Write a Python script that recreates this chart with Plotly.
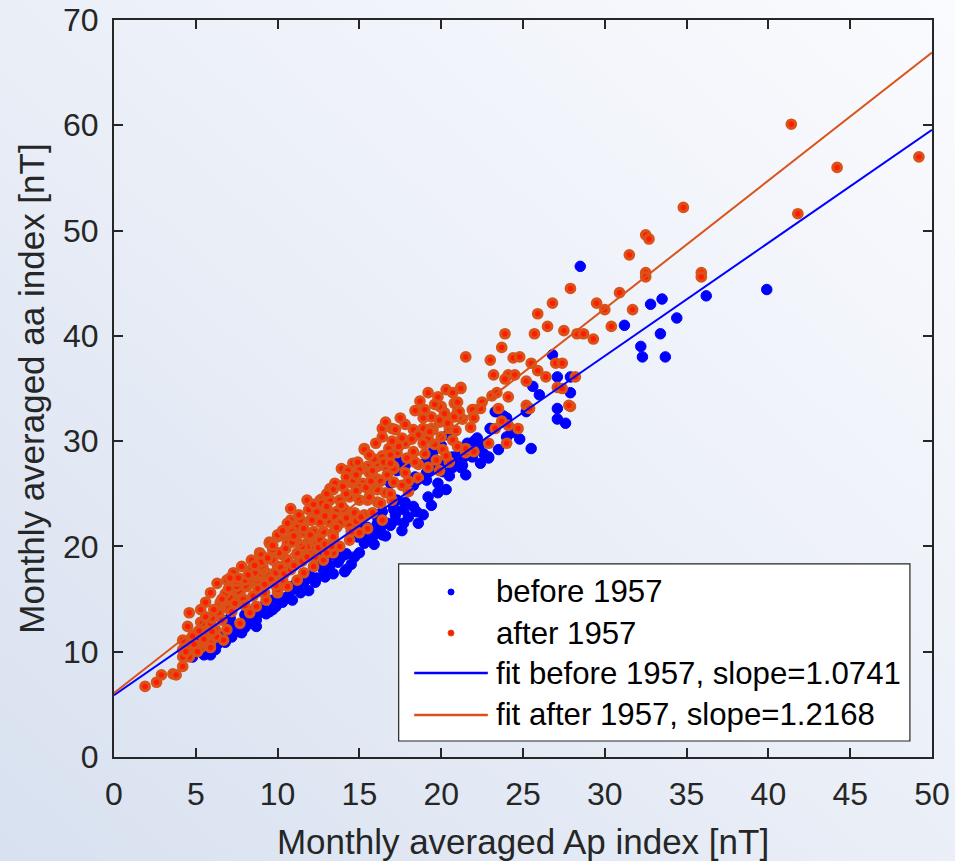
import base64
import plotly.graph_objects as go

# Monthly averaged Ap (x) and aa (y) indices, months before 1957
before_ap = [39.9, 36.2, 33.5, 32.8, 34.4, 31.2, 33.4, 32.2, 32.3, 33.7, 28.5,
             26.8, 27.1, 27.9, 25.6, 26.0, 27.9, 27.1, 27.1, 27.6, 24.8, 25.5, 24.0, 23.3, 25.2, 24.0,
             23.0, 22.2, 22.9, 21.7, 21.9, 21.4, 22.3, 21.0, 19.6, 20.0, 20.7, 21.2, 19.4,
             23.8, 21.6, 21.1, 22.3, 21.1, 19.9, 19.5, 19.4, 20.0, 20.1, 18.3, 19.1, 18.4, 17.4, 16.9,
             20.3, 19.8, 19.2, 17.8, 18.3, 17.7, 18.9, 18.6, 17.7, 17.2, 16.1, 16.1, 15.5, 16.4, 15.0,
             14.7, 17.3, 19.1, 23.0, 23.4, 22.9, 21.3, 20.4, 20.7, 19.1, 17.3, 17.8,
             17.2, 17.3, 17.1, 16.3, 16.7, 15.8, 14.9, 15.0, 15.5, 13.8, 14.2, 13.0, 12.6, 12.2,
             5.9, 5.3, 6.7, 6.4, 7.4, 7.7, 8.4, 9.1, 9.7, 10.3, 11.4, 11.7, 12.2, 12.8, 13.5, 14.1,
             14.2, 14.1, 11.6, 12.6, 14.9, 15.5, 16.1, 16.4, 17.1, 17.2, 16.3, 15.5, 14.7, 13.2,
             11.4, 10.6, 9.7, 8.9, 8.0, 7.8, 5.7, 5.0, 5.1,
             9.1, 8.5, 8.0, 7.5, 7.1, 6.6, 6.3, 5.5, 4.8, 5.3, 7.1, 8.1,
             10.8, 11.0, 12.0, 12.4, 13.0, 13.7, 9.3, 8.7, 6.9, 6.0, 22.0,
             6.2, 6.8, 7.2, 7.9, 8.3, 8.7, 9.5, 9.9, 10.1, 10.9, 11.2, 11.9, 12.3, 12.9, 13.4, 13.8,
             14.5, 15.0, 15.3, 15.9, 16.6, 16.9, 17.6, 18.0, 18.5, 19.4, 19.8, 20.5, 21.5, 22.4, 22.6,
             23.5, 24.3]
before_aa = [44.4, 43.8, 43.5, 43.0, 41.7, 41.0, 40.2, 39.0, 38.0, 38.0, 46.6,
             38.2, 36.1, 36.1, 35.2, 34.4, 34.6, 33.1, 32.1, 31.7, 30.2, 29.3, 32.2, 32.8, 32.8, 30.4,
             31.2, 30.3, 28.4, 29.6, 28.5, 28.5, 29.8, 28.0, 28.0, 29.6, 27.5, 27.5, 27.4,
             32.4, 29.8, 29.3, 29.4, 28.6, 29.7, 29.0, 28.5, 27.9, 27.1, 25.8, 26.3, 26.6, 27.6, 26.0,
             25.4, 25.1, 24.7, 24.2, 23.8, 23.5, 23.0, 22.2, 22.2, 23.0, 22.2, 21.5, 20.9, 21.1, 22.2,
             21.6, 27.2, 28.1, 31.2, 32.8, 28.5, 27.7, 30.6, 28.5, 27.0, 28.2, 27.7,
             28.0, 24.4, 23.5, 23.0, 22.2, 20.9, 22.7, 21.8, 21.8, 19.2, 19.3, 20.0, 19.4, 19.5,
             9.7, 10.0, 11.1, 10.8, 12.3, 11.9, 13.8, 14.0, 14.9, 14.7, 16.8, 16.8, 18.1, 17.8, 19.2, 19.2,
             17.8, 17.6, 16.6, 18.5, 20.9, 21.6, 22.8, 23.3, 23.7, 22.5, 21.8, 20.8, 19.0, 18.2,
             15.6, 15.2, 14.0, 13.7, 12.3, 11.8, 9.9, 10.2, 11.4,
             14.3, 13.5, 13.5, 12.1, 12.4, 11.4, 10.8, 9.7, 9.5, 11.9, 13.2, 13.7,
             15.8, 16.3, 17.2, 17.0, 18.9, 18.5, 13.6, 13.0, 11.6, 10.5, 30.0,
             10.2, 10.9, 11.4, 12.8, 12.7, 12.4, 13.8, 14.3, 15.3, 14.9, 16.0, 15.8, 16.6, 17.1, 17.4, 18.8,
             18.3, 19.4, 20.3, 20.2, 21.0, 22.0, 21.5, 22.8, 23.3, 23.9, 26.0, 26.7, 26.8, 27.9, 28.8,
             29.2, 30.8]

# Monthly averaged Ap (x) and aa (y) indices, months after 1957
after_ap = [49.2, 41.4, 44.2, 41.8, 34.8, 32.5, 32.7, 31.5, 32.5, 32.5, 35.9, 35.9, 30.9, 30.0, 31.7, 30.4, 29.3,
            27.9, 26.8, 29.5, 25.9, 26.5, 27.5, 28.3, 28.7, 23.9, 25.7, 23.7, 21.5, 23.0, 24.4, 24.8, 25.5,
            27.0, 27.4, 23.2, 24.1, 24.5, 25.9, 26.4, 23.9, 25.2, 28.2, 27.1, 27.9, 25.2, 25.4, 24.7, 24.0,
            24.1, 23.7, 23.3, 24.1, 23.5, 23.1, 23.4, 22.5, 22.0, 22.4, 22.9, 21.8, 21.3, 21.0, 21.2, 20.3,
            20.7, 20.8, 20.0, 20.2, 19.9, 20.5, 21.1, 19.5, 20.0, 20.7, 21.0, 21.5, 20.1, 19.7, 27.4, 27.8,
            19.2, 18.7, 21.2, 21.0, 19.9, 20.2, 21.1, 19.4, 19.9, 17.8, 16.4, 17.0, 16.4, 17.2, 18.3, 18.9,
            19.4, 18.6, 19.2, 15.3, 16.8, 17.8, 18.9, 16.4, 17.3, 18.3, 14.6, 13.9, 15.5, 16.1, 17.1, 18.6,
            21.9, 22.0, 20.8,
            16.1, 16.4, 16.9, 17.1, 16.6, 14.3, 15.2, 15.6, 16.1, 16.7, 17.1, 13.5, 14.0, 13.2, 14.6, 15.2,
            15.6, 16.1, 16.6, 17.0, 12.6, 13.2, 13.8, 14.4, 15.0, 15.5, 16.1, 11.9, 12.5, 13.0, 13.6, 14.1,
            14.7, 15.3, 10.8, 11.4, 12.0, 12.6, 13.2, 13.8, 14.4, 11.2, 11.6, 12.2, 12.8, 13.4, 10.0, 10.6,
            11.2, 11.8, 12.4, 9.5, 8.9, 9.7, 10.3, 11.2, 11.9, 10.8, 11.8,
            15.3, 12.7, 5.3, 5.9, 6.4, 6.5, 7.0, 7.5, 7.1, 7.7, 8.3, 8.9, 8.4, 9.1, 9.7, 10.1, 9.7, 10.6,
            11.1, 10.9, 11.6, 12.1, 12.4, 12.7, 13.4, 14.0, 14.6, 15.0, 9.5, 8.4, 7.8, 7.3, 6.9, 6.3, 5.9,
            5.6, 5.3, 4.6, 4.5, 4.2, 4.2, 4.6, 5.3, 5.9, 6.3, 6.9, 7.7, 8.3, 8.7, 9.3, 10.0, 10.6, 11.2,
            11.6, 12.2, 12.8, 13.4, 13.8, 14.4, 15.0, 13.4, 12.6, 11.8, 11.2, 10.6, 10.0, 9.3, 8.7, 8.1,
            7.5, 6.9, 6.3, 5.9, 5.7, 5.1, 4.8, 15.8, 16.3, 15.6, 16.9, 16.4,
            1.9, 2.6, 2.9, 3.6, 3.8, 4.2, 4.2, 4.5, 4.9, 5.1, 5.5, 5.9, 5.4, 6.0, 6.4, 6.5, 7.0, 7.1, 7.7,
            8.1, 7.5, 8.0, 8.7, 8.9, 8.6, 9.4, 10.0, 10.3, 9.0, 9.7, 10.0, 10.6, 10.9, 10.9, 7.5, 7.1, 7.7,
            6.7, 5.7, 6.2,
            15.5, 21.5, 19.9, 18.0, 20.5, 22.0, 17.8, 18.4, 19.0, 19.6, 18.0, 19.2, 20.3, 17.6, 18.6,
            14.8, 15.8, 16.5, 14.2, 15.0, 13.0,
            4.4, 4.8, 5.2, 5.6, 6.1, 6.0, 5.5, 6.6, 6.8, 7.2, 7.4, 7.9, 7.6, 8.2, 6.6, 7.0, 8.0,
            8.5, 8.8, 9.2, 9.6, 9.0, 9.4, 8.6, 9.9, 10.2, 9.2, 9.9,
            10.4, 10.8, 11.0, 11.5, 11.8, 10.5, 11.0, 11.5, 12.0, 12.3, 10.3, 11.3,
            12.5, 12.9, 13.0, 13.3, 12.9, 13.5, 13.9, 14.2, 13.6, 12.2, 13.0,
            14.5, 14.8, 15.1, 15.4, 14.8, 15.7, 14.2, 15.9, 15.6, 14.9,
            16.3, 16.9, 17.4, 17.6, 17.9, 17.0, 16.0, 16.6, 17.5,
            18.2, 18.9, 19.6, 19.3, 20.4, 20.9, 19.8, 19.0, 18.4]
after_aa = [57.0, 60.1, 56.0, 51.6, 52.2, 49.6, 49.2, 47.7, 46.0, 45.6, 46.0, 45.6, 44.1, 42.5, 42.5, 40.9, 39.7,
            44.5, 43.1, 43.1, 42.1, 40.9, 40.5, 40.2, 40.2, 40.2, 40.2, 38.9, 38.0, 37.7, 37.9, 38.0, 37.4,
            37.4, 37.4, 36.3, 36.3, 36.3, 36.7, 36.1, 35.9, 35.7, 36.1, 35.1, 33.3, 33.4, 33.1, 31.2, 29.8,
            31.5, 31.9, 31.2, 34.2, 33.1, 34.3, 34.6, 33.7, 33.0, 33.1, 29.8, 31.3, 32.1, 32.8, 35.1, 34.9,
            34.6, 33.6, 33.3, 32.7, 31.8, 31.2, 32.3, 31.1, 30.4, 30.1, 29.5, 28.9, 29.2, 28.2, 35.0, 33.4,
            34.6, 33.8, 35.0, 33.7, 33.3, 32.6, 32.8, 32.3, 32.0, 31.6, 31.2, 31.2, 30.4, 31.1, 31.1, 31.2,
            31.2, 30.6, 30.3, 29.3, 29.3, 29.8, 29.8, 28.6, 28.9, 29.0, 27.9, 27.4, 27.6, 27.6, 27.6, 27.8,
            33.0, 32.2, 32.3,
            27.9, 28.5, 28.7, 27.4, 27.6, 27.2, 27.4, 27.0, 26.4, 26.8, 26.1, 26.0, 25.8, 25.5, 26.0, 26.0,
            25.4, 25.4, 25.1, 24.4, 24.4, 24.4, 24.4, 24.7, 24.4, 24.4, 24.2, 23.5, 23.5, 23.3, 23.3, 23.5,
            23.2, 23.0, 22.5, 22.5, 22.5, 22.3, 22.3, 22.2, 22.0, 21.8, 21.3, 21.4, 21.4, 21.3, 20.9, 20.6,
            20.4, 20.3, 20.3, 20.4, 19.4, 19.2, 19.2, 19.2, 19.4, 23.6, 24.4,
            29.2, 24.5, 12.8, 13.0, 13.5, 14.6, 14.9, 15.2, 15.9, 16.2, 16.8, 17.1, 17.8, 18.1, 18.7, 19.4, 19.7, 20.3,
            20.6, 21.4, 21.7, 22.5, 23.3, 24.1, 25.4, 25.7, 26.3, 27.3, 20.3, 18.7, 18.1, 17.5, 16.8, 16.5, 15.6,
            14.7, 14.0, 13.7, 12.4, 11.1, 10.2, 9.5, 10.4, 10.8, 11.4, 12.1, 12.7, 13.7, 14.3, 14.9, 15.6, 16.2, 16.8,
            17.5, 18.1, 18.7, 19.4, 20.0, 20.6, 21.3, 20.9, 20.6, 20.0, 19.4, 18.7, 18.1, 17.5, 16.8, 16.2,
            15.6, 14.3, 13.7, 12.7, 11.8, 11.8, 10.8, 23.2, 24.1, 24.7, 25.0, 22.5,
            6.7, 7.1, 7.8, 7.9, 7.8, 8.6, 9.5, 10.4, 10.7, 10.0, 10.9, 10.4, 12.7, 13.2, 13.7, 14.7, 14.1, 15.1, 15.6,
            16.2, 16.2, 16.8, 16.5, 15.7, 17.5, 17.3, 15.9, 16.8, 19.2, 20.1, 21.1, 22.2, 21.4, 20.4, 16.7, 17.0, 14.9,
            11.1, 11.6, 12.1,
            21.7, 29.3, 27.2, 25.2, 28.0, 29.0, 27.0, 28.0, 28.8, 29.7, 26.2, 27.5, 28.6, 25.8, 26.5,
            26.8, 27.2, 28.0, 25.0, 25.6, 23.8,
            10.0, 11.5, 12.0, 13.3, 14.0, 11.9, 11.2, 13.0, 15.5, 13.8, 14.6, 15.0, 17.0, 17.3, 15.0, 16.0, 14.4,
            15.3, 16.0, 16.4, 16.9, 18.5, 18.9, 18.2, 17.5, 18.0, 15.6, 16.3,
            17.4, 17.8, 18.2, 18.6, 19.0, 19.8, 21.0, 20.0, 21.1, 19.0, 21.5, 23.0,
            19.9, 20.2, 19.4, 20.0, 22.9, 22.8, 23.9, 22.7, 21.8, 24.0, 25.0,
            21.4, 22.4, 22.8, 25.6, 25.3, 26.2, 26.6, 28.3, 28.7, 28.0,
            26.2, 27.9, 29.5, 30.3, 28.4, 30.0, 29.8, 31.8, 32.2,
            30.2, 32.2, 33.5, 30.9, 31.7, 31.0, 34.2, 33.0, 32.9]

# Linear fits: slopes as quoted in the legend, intercepts of each fit
fit_x = [0, 50]
slope_before, icpt_before = 1.0741, 5.87
slope_after, icpt_after = 1.2168, 6.08

x_ticks = [0, 5, 10, 15, 20, 25, 30, 35, 40, 45, 50]
y_ticks = [0, 10, 20, 30, 40, 50, 60, 70]

legend_labels = ["before 1957", "after 1957",
                 "fit before 1957, slope=1.0741", "fit after 1957, slope=1.2168"]

BLUE = "#0000ff"
ORANGE = "#d95319"
RED = "#ff1a00"
INK = "#262626"
FONT = "Liberation Sans, Arial, Helvetica, sans-serif"

W, H = 955, 861
ML, MR, MT, MB = 114, 23, 20, 104
PW, PH = W - ML - MR, H - MT - MB

fig = go.Figure()

fig.add_trace(go.Scatter(
    x=before_ap, y=before_aa, mode="markers", name=legend_labels[0],
    marker=dict(color=BLUE, size=10.5, line=dict(color=BLUE, width=1)),
))
fig.add_trace(go.Scatter(
    x=after_ap, y=after_aa, mode="markers", name=legend_labels[1],
    marker=dict(color=RED, size=8.5, line=dict(color=ORANGE, width=3.2)),
))
fig.add_trace(go.Scatter(
    x=fit_x, y=[slope_before * v + icpt_before for v in fit_x], mode="lines",
    name=legend_labels[2], line=dict(color=BLUE, width=2),
))
fig.add_trace(go.Scatter(
    x=fit_x, y=[slope_after * v + icpt_after for v in fit_x], mode="lines",
    name=legend_labels[3], line=dict(color=ORANGE, width=2),
))

# Legend box drawn in axis-domain coordinates
box_x0, box_x1 = 0.348, 0.973
box_y0, box_y1 = 0.0217, 0.262
row_y = [0.2239, 0.1682, 0.1139, 0.0570]
sym_x = 0.412
line_x0, line_x1 = 0.367, 0.457
text_x = 0.465

shapes = [dict(type="rect", xref="x domain", yref="y domain",
               x0=box_x0, x1=box_x1, y0=box_y0, y1=box_y1,
               line=dict(color=INK, width=1.2), fillcolor="white", layer="above")]
for ry, fill, edge in [(row_y[0], BLUE, BLUE), (row_y[1], RED, ORANGE)]:
    shapes.append(dict(type="circle", xref="x domain", yref="y domain",
                       xsizemode="pixel", ysizemode="pixel",
                       xanchor=sym_x, yanchor=ry, x0=-3, x1=3, y0=-3, y1=3,
                       fillcolor=fill, line=dict(color=edge, width=1), layer="above"))
for ry, col in [(row_y[2], BLUE), (row_y[3], ORANGE)]:
    shapes.append(dict(type="line", xref="x domain", yref="y domain",
                       x0=line_x0, x1=line_x1, y0=ry, y1=ry,
                       line=dict(color=col, width=2.5), layer="above"))

annotations = [dict(xref="x domain", yref="y domain", x=text_x, y=ry, text=t,
                    showarrow=False, xanchor="left", yanchor="middle",
                    font=dict(family=FONT, size=31.2, color="black"))
               for ry, t in zip(row_y, legend_labels)]

svg = (f"<svg xmlns='http://www.w3.org/2000/svg' width='{W}' height='{H}' "
       f"viewBox='0 0 {W} {H}' preserveAspectRatio='none'>"
       "<defs><linearGradient id='g' x1='0' y1='1' x2='1' y2='0'>"
       "<stop offset='0' stop-color='#d8e1f0'/>"
       "<stop offset='0.55' stop-color='#ecf0f8'/>"
       "<stop offset='1' stop-color='#fafbfe'/>"
       "</linearGradient></defs>"
       f"<rect width='{W}' height='{H}' fill='url(#g)'/></svg>")
bg_src = "data:image/svg+xml;base64," + base64.b64encode(svg.encode()).decode()

axis_common = dict(
    showgrid=False, zeroline=False, showline=True, linecolor=INK, linewidth=2,
    mirror="ticks", ticks="inside", ticklen=9, tickwidth=2, tickcolor=INK,
    automargin=False,
    tickfont=dict(family=FONT, size=32, color=INK),
)

fig.update_layout(
    width=W, height=H,
    margin=dict(l=ML, r=MR, t=MT, b=MB, pad=0, autoexpand=False),
    paper_bgcolor="#e8edf7", plot_bgcolor="white",
    showlegend=False,
    font=dict(family=FONT, color=INK),
    xaxis=dict(range=[0, 50], tickvals=x_ticks, ticklabelstandoff=8,
               title=dict(text="Monthly averaged Ap index [nT]", standoff=20,
                          font=dict(family=FONT, size=35, color=INK)),
               **axis_common),
    yaxis=dict(range=[0, 70], tickvals=y_ticks, ticklabelstandoff=7,
               title=dict(text="Monthly averaged aa index [nT]", standoff=8,
                          font=dict(family=FONT, size=35, color=INK)),
               **axis_common),
    shapes=shapes,
    annotations=annotations,
    images=[dict(source=bg_src, xref="paper", yref="paper",
                 x=-ML / PW, y=1 + MT / PH, sizex=W / PW, sizey=H / PH,
                 xanchor="left", yanchor="top", sizing="stretch", layer="below")],
)

fig.write_html("out.html")
